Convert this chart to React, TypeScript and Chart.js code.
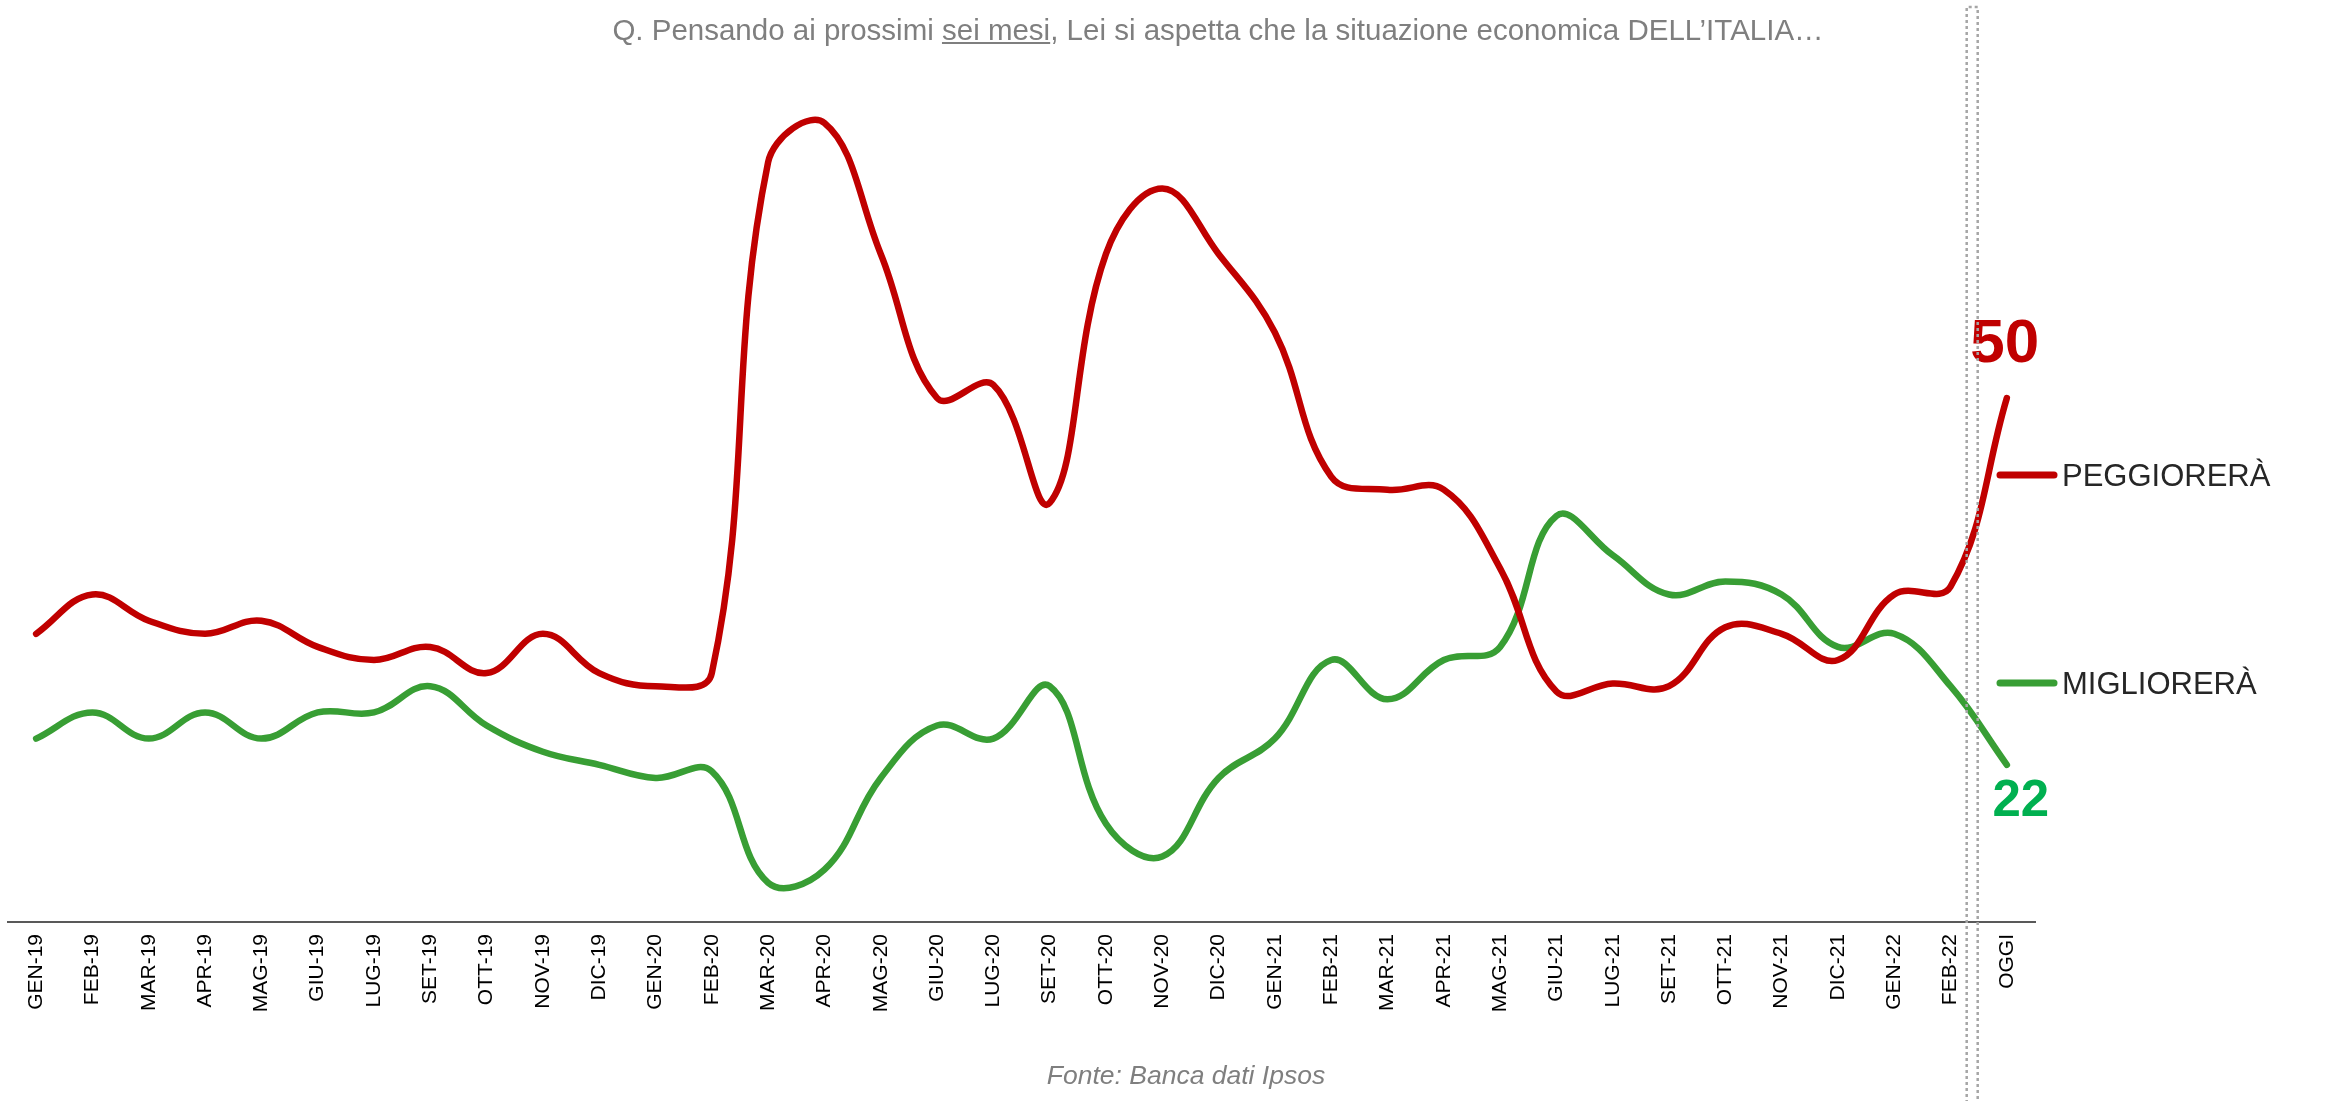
import React, { useEffect, useRef } from "react";
import { Chart, registerables } from "chart.js";

Chart.register(...registerables);

const labels = [
  "GEN-19", "FEB-19", "MAR-19", "APR-19", "MAG-19", "GIU-19", "LUG-19", "SET-19", "OTT-19", "NOV-19", "DIC-19",
  "GEN-20", "FEB-20", "MAR-20", "APR-20", "MAG-20", "GIU-20", "LUG-20", "SET-20", "OTT-20", "NOV-20", "DIC-20",
  "GEN-21", "FEB-21", "MAR-21", "APR-21", "MAG-21", "GIU-21", "LUG-21", "SET-21", "OTT-21", "NOV-21", "DIC-21",
  "GEN-22", "FEB-22", "OGGI",
];

const peggiorera = [
  32, 35, 33, 32, 33, 31, 30, 31, 29, 32, 29,
  28, 29, 68, 71, 61, 50, 51, 42, 61, 66, 61,
  55, 44, 43, 43, 37, 27.6, 28.2, 28, 32.5, 32, 30,
  35, 35.6, 50,
];

const migliorera = [
  24, 26, 24, 26, 24, 26, 26, 28, 25, 23, 22,
  21, 21.5, 13, 14, 21, 25, 24, 28, 17.5, 15, 21,
  24, 30, 27, 30, 31, 41, 38, 35, 36, 35, 31,
  32, 28, 22,
];

const seriesNames = ["PEGGIORERÀ", "MIGLIORERÀ"];
const lastLabels = ["50", "22"];

const RED = "#C00000";
const GREEN = "#389E34";
const GREEN_TEXT = "#00B050";
const FONT = "'Liberation Sans', Arial, sans-serif";

const overlayPlugin = {
  id: "overlayPlugin",
  afterDraw(chart: any) {
    const ctx = chart.ctx as CanvasRenderingContext2D;
    const xs = chart.scales.x;
    const n = labels.length;

    // value labels at last point
    const rp = chart.getDatasetMeta(0).data[n - 1];
    const gp = chart.getDatasetMeta(1).data[n - 1];
    ctx.save();
    ctx.textAlign = "center";
    ctx.textBaseline = "alphabetic";
    ctx.fillStyle = RED;
    ctx.font = `bold 62px ${FONT}`;
    ctx.fillText(lastLabels[0], rp.x - 2, rp.y - 36);
    ctx.fillStyle = GREEN_TEXT;
    ctx.font = `bold 51px ${FONT}`;
    ctx.fillText(lastLabels[1], gp.x + 14, gp.y + 51);

    // legend
    const legendX0 = 2000;
    const legendX1 = 2054;
    const legendY = [475, 683];
    const colors = [RED, GREEN];
    ctx.lineCap = "round";
    ctx.lineWidth = 7;
    ctx.font = `31px ${FONT}`;
    ctx.textAlign = "left";
    for (let i = 0; i < 2; i++) {
      ctx.strokeStyle = colors[i];
      ctx.beginPath();
      ctx.moveTo(legendX0, legendY[i]);
      ctx.lineTo(legendX1, legendY[i]);
      ctx.stroke();
      ctx.fillStyle = "#262626";
      ctx.fillText(seriesNames[i], 2062, legendY[i] + 11);
    }

    // dotted frame between FEB-22 and OGGI
    const mid = (xs.getPixelForValue(n - 2) + xs.getPixelForValue(n - 1)) / 2;
    const xa = mid - 12;
    const xb = mid - 1;
    ctx.strokeStyle = "#A6A6A6";
    ctx.lineWidth = 2.5;
    ctx.lineCap = "butt";
    ctx.setLineDash([3, 3]);
    ctx.beginPath();
    ctx.moveTo(xa, chart.height + 2);
    ctx.lineTo(xa, 7);
    ctx.lineTo(xb, 7);
    ctx.lineTo(xb, chart.height + 2);
    ctx.stroke();
    ctx.restore();
  },
};

export default function App() {
  const ref = useRef<HTMLCanvasElement | null>(null);

  useEffect(() => {
    document.body.style.margin = "0";
    document.body.style.overflow = "hidden";
    const canvas = ref.current;
    if (!canvas) return;
    const chart = new Chart(canvas, {
      type: "line",
      data: {
        labels,
        datasets: [
          {
            label: seriesNames[0],
            data: peggiorera,
            borderColor: RED,
            borderWidth: 6.5,
            pointRadius: 0,
            tension: 0.4,
            fill: false,
            borderCapStyle: "round",
            borderJoinStyle: "round",
          },
          {
            label: seriesNames[1],
            data: migliorera,
            borderColor: GREEN,
            borderWidth: 6.5,
            pointRadius: 0,
            tension: 0.4,
            fill: false,
            borderCapStyle: "round",
            borderJoinStyle: "round",
          },
        ],
      },
      options: {
        animation: false,
        responsive: false,
        devicePixelRatio: 1,
        layout: { padding: { left: 8, right: 303, top: 5, bottom: 0 } },
        plugins: {
          legend: { display: false },
          tooltip: { enabled: false },
          title: { display: false },
        },
        scales: {
          x: {
            type: "category",
            offset: true,
            grid: { display: false, drawTicks: false },
            border: { display: true, color: "#595959", width: 2 },
            ticks: {
              autoSkip: false,
              maxRotation: 90,
              minRotation: 90,
              padding: 12,
              color: "#000000",
              font: { family: FONT, size: 21 },
            },
            afterFit: (s: any) => {
              s.height = 179;
            },
          },
          y: {
            display: false,
            min: 10,
            max: 80,
          },
        },
      },
      plugins: [overlayPlugin],
    });
    return () => chart.destroy();
  }, []);

  return (
    <div style={{ position: "relative", width: 2338, height: 1101, overflow: "hidden", background: "#fff" }}>
      <canvas ref={ref} width={2338} height={1101} style={{ display: "block", width: 2338, height: 1101 }} />
      <div
        style={{
          position: "absolute",
          top: 15,
          left: 1218,
          transform: "translateX(-50%)",
          whiteSpace: "nowrap",
          fontFamily: FONT,
          fontSize: 29.5,
          lineHeight: "29.5px",
          color: "#7F7F7F",
        }}
      >
        Q. Pensando ai prossimi <u>sei mesi</u>, Lei si aspetta che la situazione economica DELL’ITALIA…
      </div>
      <div
        style={{
          position: "absolute",
          top: 1062,
          left: 1186,
          transform: "translateX(-50%)",
          whiteSpace: "nowrap",
          fontFamily: FONT,
          fontSize: 26.5,
          lineHeight: "26.5px",
          fontStyle: "italic",
          color: "#7F7F7F",
        }}
      >
        Fonte: Banca dati Ipsos
      </div>
    </div>
  );
}
